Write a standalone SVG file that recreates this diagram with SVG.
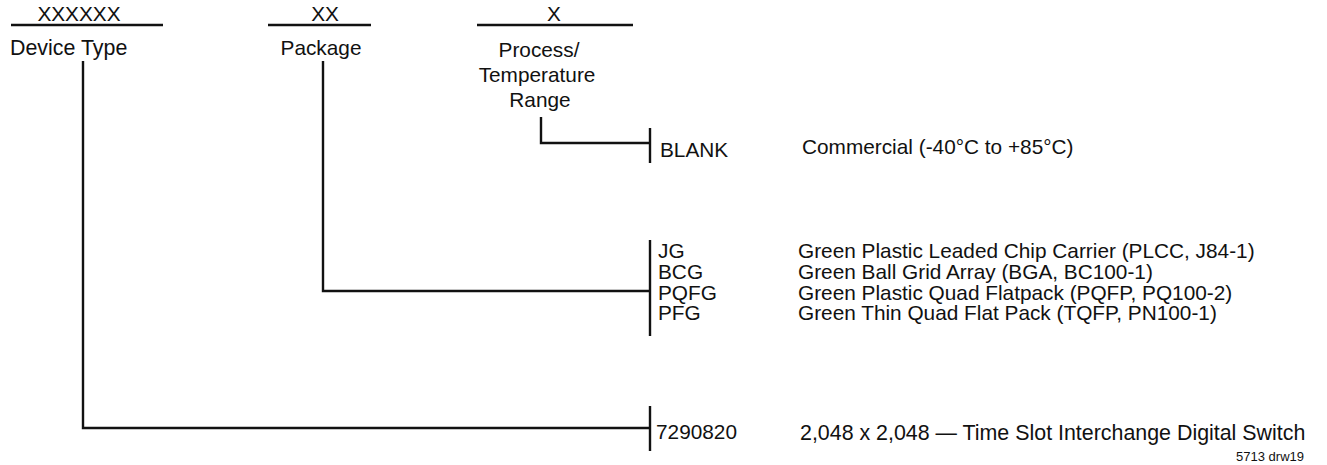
<svg xmlns="http://www.w3.org/2000/svg" width="1327" height="465" viewBox="0 0 1327 465">
<style>
text{font-family:"Liberation Sans",Arial,sans-serif;font-size:20.8px;fill:#111}
.m{text-anchor:middle}
.w{font-size:21.4px}
.ln{stroke:#111;stroke-width:2.4;fill:none}
.sm{font-size:13px}
</style>
<rect width="1327" height="465" fill="#fff"/>
<g id="header-device">
<text class="m" x="79" y="21">XXXXXX</text>
<line class="ln" x1="11" y1="25" x2="163" y2="25"/>
<text class="w" x="10" y="55">Device Type</text>
</g>
<g id="header-package">
<text class="m" x="325" y="21">XX</text>
<line class="ln" x1="268" y1="25" x2="371" y2="25"/>
<text class="m" x="321" y="55">Package</text>
</g>
<g id="header-process">
<text class="m" x="554" y="21">X</text>
<line class="ln" x1="477" y1="25" x2="633" y2="25"/>
<text class="m" x="539" y="57">Process/</text>
<text class="m" x="537" y="82">Temperature</text>
<text class="m" x="540" y="107">Range</text>
</g>
<g id="connectors">
<polyline class="ln" points="83,61 83,428 650,428"/>
<line class="ln" x1="650" y1="406" x2="650" y2="451"/>
<polyline class="ln" points="323,61 323,291 650,291"/>
<line class="ln" x1="650" y1="240" x2="650" y2="336"/>
<polyline class="ln" points="541,117 541,143 650,143"/>
<line class="ln" x1="650" y1="128" x2="650" y2="163"/>
</g>
<g id="option-blank">
<text x="660" y="157">BLANK</text>
<text x="802" y="154">Commercial (-40°C to +85°C)</text>
</g>
<g id="option-packages">
<text x="658" y="258">JG</text>
<text x="798" y="258">Green Plastic Leaded Chip Carrier (PLCC, J84-1)</text>
<text x="658" y="279">BCG</text>
<text x="798" y="279">Green Ball Grid Array (BGA, BC100-1)</text>
<text x="658" y="299.5">PQFG</text>
<text x="798" y="299.5">Green Plastic Quad Flatpack (PQFP, PQ100-2)</text>
<text x="658" y="320">PFG</text>
<text x="798" y="320">Green Thin Quad Flat Pack (TQFP, PN100-1)</text>
</g>
<g id="option-device">
<text x="656" y="439">7290820</text>
<text class="w" x="800" y="440">2,048 x 2,048 — Time Slot Interchange Digital Switch</text>
</g>
<text class="sm" x="1304" y="461" text-anchor="end">5713 drw19</text>
</svg>
